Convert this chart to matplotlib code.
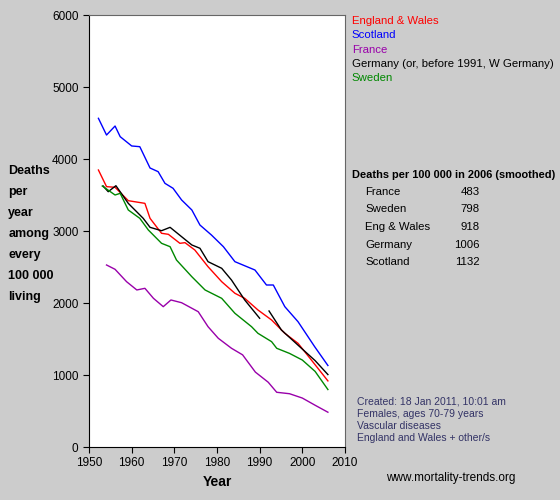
import matplotlib
matplotlib.use("Agg")
import matplotlib.pyplot as plt

plt.rcParams['font.family'] = ['Liberation Sans', 'DejaVu Sans']

ew_x = [1952.2,1954.1,1956.1,1959.2,1963.1,1964.3,1967.0,1968.6,1971.3,1972.5,1974.8,1977.9,1981.1,1984.2,1986.5,1989.6,1992.8,1995.9,1999.0,2002.5,2006]
ew_y = [3847,3616,3607,3421,3384,3176,2968,2954,2829,2838,2736,2504,2296,2135,2065,1903,1764,1579,1440,1180,918]

sc_x = [1952.2,1954.1,1956.1,1957.3,1960.0,1961.9,1964.3,1966.2,1967.8,1969.7,1971.7,1974.1,1976.0,1978.7,1981.5,1984.2,1988.9,1991.6,1993.2,1995.9,1999.0,2002.9,2006]
sc_y = [4565,4333,4458,4310,4181,4171,3875,3824,3662,3593,3431,3292,3083,2944,2782,2574,2458,2250,2250,1949,1740,1393,1132]

fr_x = [1954.1,1956.1,1958.8,1961.2,1963.1,1965.1,1967.4,1969.2,1971.7,1975.6,1977.9,1980.3,1983.4,1986.0,1989.0,1992.0,1994.0,1997.0,2000.0,2003.0,2006]
fr_y = [2528,2468,2296,2181,2204,2065,1949,2042,2004,1879,1671,1510,1371,1280,1040,900,760,740,680,580,483]

de1_x = [1953.3,1954.5,1956.3,1959.2,1962.7,1964.3,1967.0,1969.0,1971.7,1974.1,1976.0,1977.9,1981.1,1983.4,1986.5,1990.0]
de1_y = [3625,3546,3629,3384,3176,3051,3004,3051,2921,2806,2760,2574,2482,2319,2042,1788]
de2_x = [1992.2,1995.1,1999.8,2003.0,2006]
de2_y = [1889,1625,1371,1200,1006]

se_x = [1953.1,1956.1,1957.3,1959.2,1961.9,1963.9,1967.0,1969.0,1970.5,1974.1,1977.2,1981.1,1984.2,1988.1,1989.6,1992.8,1994.0,1997.0,2000.0,2003.0,2006]
se_y = [3625,3500,3523,3292,3176,3014,2829,2782,2597,2365,2181,2065,1857,1671,1579,1463,1371,1300,1208,1050,798]

legend_names = ["England & Wales", "Scotland", "France", "Germany (or, before 1991, W Germany)", "Sweden"]
legend_colors = ["#ff0000", "#0000ff", "#9900aa", "#000000", "#008800"]
table_names = ["France", "Sweden", "Eng & Wales", "Germany", "Scotland"]
table_vals = [483, 798, 918, 1006, 1132]

bg = "#cccccc"
fig = plt.figure(figsize=(5.6, 5.0), dpi=100, facecolor=bg)
ax = fig.add_axes([0.159, 0.106, 0.457, 0.864])
ax.plot(ew_x, ew_y, color="#ff0000", lw=1)
ax.plot(sc_x, sc_y, color="#0000ff", lw=1)
ax.plot(fr_x, fr_y, color="#9900aa", lw=1)
ax.plot(de1_x, de1_y, color="#000000", lw=1)
ax.plot(de2_x, de2_y, color="#000000", lw=1)
ax.plot(se_x, se_y, color="#008800", lw=1)
ax.set_xlim(1950, 2010)
ax.set_ylim(0, 6000)
ax.set_xticks(range(1950, 2011, 10))
ax.set_yticks(range(0, 6001, 1000))
ax.tick_params(labelsize=8.5, direction='out', length=4)
for s in ['top', 'right']:
    ax.spines[s].set_color('#666666')
ax.set_xlabel("Year", fontsize=10, fontweight='bold')

fig.text(0.015, 0.67, "Deaths\nper\nyear\namong\nevery\n100 000\nliving",
         fontsize=9, fontweight='bold', va='top', ha='left', linespacing=2.0)

for i, (n, c) in enumerate(zip(legend_names, legend_colors)):
    fig.text(0.628, 0.958 - i * 0.0285, n, color=c, fontsize=8.2, va='center')

fig.text(0.628, 0.651, "Deaths per 100 000 in 2006 (smoothed)", fontsize=7.9, fontweight='bold', va='center')
for i, (n, v) in enumerate(zip(table_names, table_vals)):
    y = 0.616 - i * 0.035
    fig.text(0.652, y, n, fontsize=8.2, va='center')
    fig.text(0.857, y, str(v), fontsize=8.2, va='center', ha='right')

notes = ["Created: 18 Jan 2011, 10:01 am", "Females, ages 70-79 years", "Vascular diseases", "England and Wales + other/s"]
for i, n in enumerate(notes):
    fig.text(0.638, 0.196 - i * 0.024, n, fontsize=7.5, color="#333366", va='center')
fig.text(0.69, 0.044, "www.mortality-trends.org", fontsize=8.5, va='center')

fig.savefig("out.png", dpi=100, facecolor=bg)
